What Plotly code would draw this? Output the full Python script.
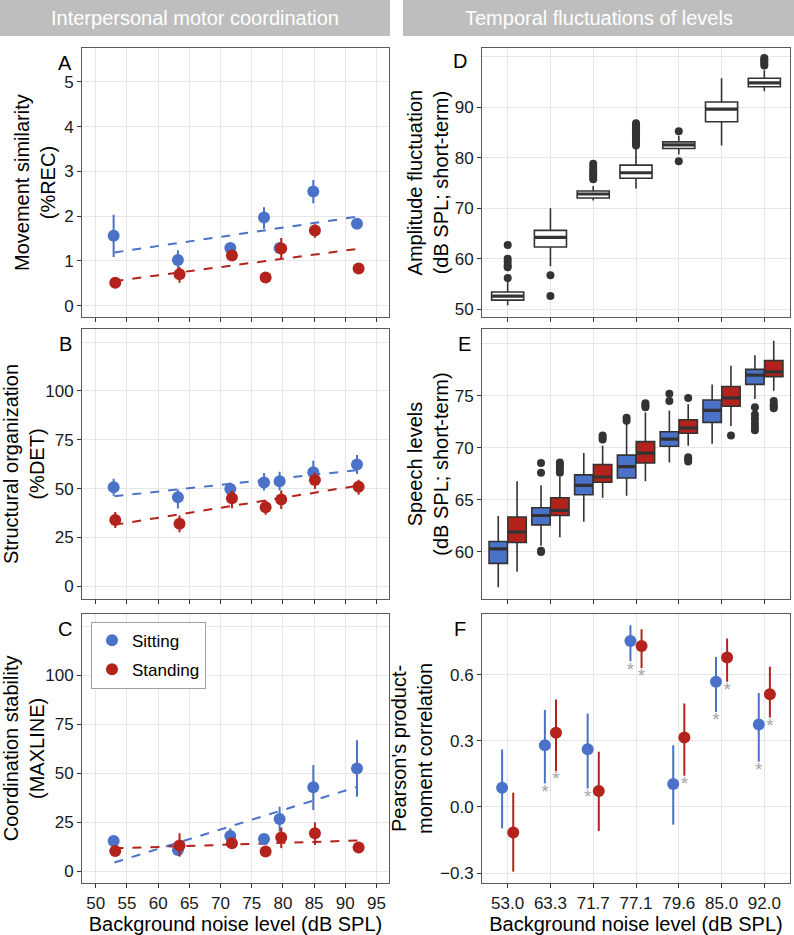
import plotly.graph_objects as go

# noise levels (x) shared by all panels
noise = [53.0, 63.3, 71.7, 77.1, 79.6, 85.0, 92.0]
noise_labels = ["53.0", "63.3", "71.7", "77.1", "79.6", "85.0", "92.0"]
fit_x = [53.0, 92.0]

# A: movement similarity (%REC)
rec_sit = [1.56, 1.02, 1.29, 1.97, 1.29, 2.55, 1.83]
rec_sit_hi = [2.03, 1.24, 1.38, 2.20, 1.38, 2.81, 1.90]
rec_sit_lo = [1.09, 0.82, 1.20, 1.72, 1.20, 2.29, 1.76]
rec_sta = [0.51, 0.70, 1.12, 0.63, 1.28, 1.68, 0.83]
rec_sta_hi = [0.56, 0.87, 1.18, 0.68, 1.51, 1.82, 0.88]
rec_sta_lo = [0.46, 0.51, 1.06, 0.58, 1.05, 1.52, 0.78]
rec_fit_sit = [1.19, 1.99]
rec_fit_sta = [0.55, 1.27]

# B: structural organization (%DET)
det_sit = [50.7, 45.6, 49.8, 53.2, 53.8, 58.4, 62.3]
det_sit_hi = [55.0, 49.5, 53.2, 58.0, 58.7, 64.3, 67.2]
det_sit_lo = [46.4, 39.8, 47.2, 49.0, 49.0, 53.2, 57.5]
det_sta = [34.0, 32.0, 45.1, 40.5, 44.4, 54.4, 51.0]
det_sta_hi = [38.0, 36.2, 49.0, 44.0, 49.0, 58.2, 54.6]
det_sta_lo = [29.9, 27.7, 40.0, 36.6, 39.6, 49.8, 46.9]
det_fit_sit = [46.1, 59.5]
det_fit_sta = [31.5, 51.5]

# C: coordination stability (MAXLINE)
maxl_sit = [15.6, 11.0, 18.1, 16.6, 26.7, 42.9, 52.5]
maxl_sit_hi = [17.0, 13.5, 22.0, 18.0, 33.0, 54.2, 66.9]
maxl_sit_lo = [14.2, 9.0, 15.3, 15.2, 20.3, 31.3, 38.1]
maxl_sta = [10.5, 13.2, 14.4, 10.2, 17.3, 19.5, 12.2]
maxl_sta_hi = [11.8, 19.5, 16.0, 11.5, 22.4, 25.0, 13.5]
maxl_sta_lo = [9.2, 7.6, 12.8, 8.9, 11.9, 13.5, 10.9]
maxl_fit_sit = [4.6, 43.2]
maxl_fit_sta = [11.8, 15.8]

# D: amplitude fluctuation boxplots
amp_lo = [50.8, 58.5, 71.5, 73.9, 80.6, 82.4, 93.1]
amp_q1 = [51.8, 62.3, 72.0, 75.9, 81.8, 87.1, 94.0]
amp_med = [52.6, 64.2, 72.8, 77.0, 82.5, 89.6, 94.8]
amp_q3 = [53.4, 65.6, 73.4, 78.5, 83.1, 91.0, 95.7]
amp_hi = [55.5, 70.0, 74.4, 82.0, 84.3, 95.7, 97.3]
amp_out = [
    [56.2, 58.3, 58.7, 59.4, 60.0, 62.7],
    [56.7, 52.6],
    [75.7, 76.2, 76.6, 77.1, 77.5, 78.2, 78.8],
    [82.4, 82.8, 83.2, 83.6, 84.0, 84.4, 84.8, 85.2, 85.6, 86.0, 86.4, 86.8],
    [85.2, 79.3],
    [],
    [98.2, 98.6, 99.0, 99.4, 99.7],
]

# E: speech levels boxplots
sp_sit_lo = [56.6, 60.6, 62.9, 65.4, 68.6, 70.4, 74.7]
sp_sit_q1 = [58.9, 62.6, 65.5, 67.1, 70.15, 72.45, 76.1]
sp_sit_med = [60.3, 63.5, 66.4, 68.2, 70.85, 73.6, 77.0]
sp_sit_q3 = [61.0, 64.25, 67.4, 69.3, 71.55, 74.6, 77.55]
sp_sit_hi = [63.45, 66.4, 69.5, 72.3, 73.6, 76.1, 78.9]
sp_sit_out = [[], [68.55, 67.6, 60.1, 60.0], [], [72.9, 72.6], [75.2, 74.5], [],
              [73.9, 73.2, 72.8, 72.4, 72.0, 71.7]]
sp_sta_lo = [58.1, 61.4, 65.2, 66.8, 70.2, 72.1, 75.5]
sp_sta_q1 = [60.9, 63.5, 66.7, 68.55, 71.4, 74.0, 76.85]
sp_sta_med = [61.9, 64.0, 67.2, 69.5, 71.9, 74.8, 77.3]
sp_sta_q3 = [63.35, 65.2, 68.4, 70.6, 72.7, 75.9, 78.4]
sp_sta_hi = [66.8, 67.2, 70.2, 73.4, 74.2, 77.9, 80.3]
sp_sta_out = [[], [68.6, 68.4, 68.2, 67.9, 67.6], [71.2, 71.0, 70.8], [74.3, 74.1, 73.9],
              [74.8, 69.1, 68.9, 68.7], [71.2], [74.5, 74.2, 74.0, 73.8]]

# F: Pearson correlations with CI and significance
cor_sit = [0.087, 0.28, 0.262, 0.752, 0.104, 0.567, 0.374]
cor_sit_hi = [0.26, 0.44, 0.424, 0.823, 0.28, 0.68, 0.517]
cor_sit_lo = [-0.097, 0.107, 0.084, 0.66, -0.08, 0.43, 0.205]
cor_sit_sig = [False, True, True, True, False, True, True]
cor_sta = [-0.116, 0.336, 0.072, 0.73, 0.315, 0.677, 0.511]
cor_sta_hi = [0.065, 0.487, 0.25, 0.805, 0.469, 0.763, 0.635]
cor_sta_lo = [-0.293, 0.162, -0.109, 0.63, 0.142, 0.567, 0.405]
cor_sta_sig = [False, True, False, True, True, True, True]

BLUE = "#4A72C8"
RED = "#B3231C"
DARK = "#333333"
FONT = "Liberation Sans, Arial, sans-serif"
W, H = 794, 935

fig = go.Figure()


def px_x(p):
    return p / W


def px_y(p):
    return 1 - p / H


def point_series(xs, ys, hi, lo, color, ax, name, legend=False, shift=0.0):
    fig.add_trace(go.Scatter(
        x=[v + shift for v in xs], y=ys, mode="markers", name=name, legendgroup=name,
        marker=dict(color=color, size=12),
        error_y=dict(type="data", symmetric=False,
                     array=[h - v for h, v in zip(hi, ys)],
                     arrayminus=[v - l for v, l in zip(ys, lo)],
                     color=color, thickness=2, width=0),
        xaxis="x" + ax, yaxis="y" + ax, showlegend=legend))


def fit_line(ys, color, ax):
    fig.add_trace(go.Scatter(
        x=fit_x, y=ys, mode="lines", line=dict(color=color, width=2, dash="dash"),
        xaxis="x" + ax, yaxis="y" + ax, showlegend=False))


# left column: A (1), B (2), C (3)
for ax, (s, sh, sl, t, th, tl, fs, ft) in zip(["1", "2", "3"], [
        (rec_sit, rec_sit_hi, rec_sit_lo, rec_sta, rec_sta_hi, rec_sta_lo, rec_fit_sit, rec_fit_sta),
        (det_sit, det_sit_hi, det_sit_lo, det_sta, det_sta_hi, det_sta_lo, det_fit_sit, det_fit_sta),
        (maxl_sit, maxl_sit_hi, maxl_sit_lo, maxl_sta, maxl_sta_hi, maxl_sta_lo, maxl_fit_sit, maxl_fit_sta)]):
    fit_line(fs, BLUE, ax)
    fit_line(ft, RED, ax)
    point_series(noise, s, sh, sl, BLUE, ax, "Sitting", legend=(ax == "3"), shift=-0.13)
    point_series(noise, t, th, tl, RED, ax, "Standing", legend=(ax == "3"), shift=0.13)

pos = list(range(len(noise)))


def boxes(posx, lo, q1, med, q3, hi, out, fill, ax, width):
    fig.add_trace(go.Box(
        x=posx, lowerfence=lo, q1=q1, median=med, q3=q3, upperfence=hi,
        width=width, whiskerwidth=0, fillcolor=fill, boxpoints=False,
        line=dict(color=DARK, width=1.6), xaxis="x" + ax, yaxis="y" + ax,
        showlegend=False))
    mx, my = [], []
    for p, m in zip(posx, med):
        mx += [p - width / 2, p + width / 2, None]
        my += [m, m, None]
    fig.add_trace(go.Scatter(x=mx, y=my, mode="lines", line=dict(color=DARK, width=3.2),
                             xaxis="x" + ax, yaxis="y" + ax, showlegend=False))
    ox, oy = [], []
    for p, vals in zip(posx, out):
        ox += [p] * len(vals)
        oy += vals
    fig.add_trace(go.Scatter(x=ox, y=oy, mode="markers", marker=dict(color=DARK, size=8),
                             xaxis="x" + ax, yaxis="y" + ax, showlegend=False))


# D (4)
boxes(pos, amp_lo, amp_q1, amp_med, amp_q3, amp_hi, amp_out, "white", "4", 0.75)
# E (5)
boxes([p - 0.22 for p in pos], sp_sit_lo, sp_sit_q1, sp_sit_med, sp_sit_q3, sp_sit_hi,
      sp_sit_out, BLUE, "5", 0.43)
boxes([p + 0.22 for p in pos], sp_sta_lo, sp_sta_q1, sp_sta_med, sp_sta_q3, sp_sta_hi,
      sp_sta_out, RED, "5", 0.43)

# F (6)
for vals, hi, lo, sig, color, shift in [
        (cor_sit, cor_sit_hi, cor_sit_lo, cor_sit_sig, BLUE, -0.13),
        (cor_sta, cor_sta_hi, cor_sta_lo, cor_sta_sig, RED, 0.13)]:
    point_series(pos, vals, hi, lo, color, "6", "", shift=shift)
    fig.add_trace(go.Scatter(
        x=[p + shift for p, s in zip(pos, sig) if s],
        y=[l for l, s in zip(lo, sig) if s],
        mode="text", text="*", textposition="bottom center",
        textfont=dict(color="#A6A6A6", size=19, family=FONT),
        xaxis="x6", yaxis="y6", showlegend=False))

# axis layout
left_dom = [px_x(82), px_x(389)]
right_dom = [px_x(482), px_x(790)]
rows = [[px_y(318), px_y(48)], [px_y(600), px_y(330)], [px_y(885), px_y(615)]]

grid = "#E6E6E6"
tickfont = dict(family=FONT, size=17, color="#1A1A1A")
titlefont = dict(family=FONT, size=20, color="black")


def xstyle(dom, anchor, **kw):
    d = dict(domain=dom, anchor=anchor, showline=True, mirror=True, linecolor="#5A5A5A",
             linewidth=1, ticks="outside", ticklen=4, tickcolor=DARK, gridcolor=grid,
             gridwidth=1.3, zeroline=False, tickfont=tickfont)
    d.update(kw)
    return d


def ystyle(dom, anchor, title, rng, tickvals, extra=None, standoff=3):
    d = dict(domain=dom, anchor=anchor, showline=True, mirror=True, linecolor="#5A5A5A",
             linewidth=1, ticks="outside", ticklen=4, tickcolor=DARK, gridcolor=grid,
             gridwidth=1.3, zeroline=False, tickfont=tickfont, range=rng,
             tickvals=tickvals, title=dict(text=title, font=titlefont, standoff=standoff))
    if extra is not None:
        d["minor"] = dict(tickvals=extra, showgrid=True, gridcolor=grid, gridwidth=1.3,
                          ticks="")
    return d


lin_ticks = [50, 55, 60, 65, 70, 75, 80, 85, 90, 95]
xr = [47.8, 97.0]
cat_r = [-0.6, 6.6]
xtitle = "Background noise level (dB SPL)"

fig.update_layout(
    xaxis=xstyle(left_dom, "y", range=xr, tickvals=lin_ticks, showticklabels=False),
    xaxis2=xstyle(left_dom, "y2", range=xr, tickvals=lin_ticks, showticklabels=False),
    xaxis3=xstyle(left_dom, "y3", range=xr, tickvals=lin_ticks,
                  title=dict(text=xtitle, font=titlefont, standoff=2)),
    xaxis4=xstyle(right_dom, "y4", range=cat_r, tickvals=pos, showticklabels=False),
    xaxis5=xstyle(right_dom, "y5", range=cat_r, tickvals=pos, showticklabels=False),
    xaxis6=xstyle(right_dom, "y6", range=cat_r, tickvals=pos, ticktext=noise_labels,
                  title=dict(text=xtitle, font=titlefont, standoff=2)),
    yaxis=ystyle(rows[0], "x", "Movement similarity<br>(%REC)", [-0.26, 5.76], [0, 1, 2, 3, 4, 5]),
    yaxis2=ystyle(rows[1], "x2", "Structural organization<br>(%DET)", [-6.3, 131.5],
                  [0, 25, 50, 75, 100], [125]),
    yaxis3=ystyle(rows[2], "x3", "Coordination stability<br>(MAXLINE)", [-5.9, 131.3],
                  [0, 25, 50, 75, 100], [125]),
    yaxis4=ystyle(rows[0], "x4", "Amplitude fluctuation<br>(dB SPL; short-term)", [48.4, 101.7],
                  [50, 60, 70, 80, 90], [100], standoff=0),
    yaxis5=ystyle(rows[1], "x5", "Speech levels<br>(dB SPL; short-term)", [55.5, 81.4],
                  [60, 65, 70, 75], [80], standoff=0),
    yaxis6=ystyle(rows[2], "x6", "Pearson's product-<br>moment correlation", [-0.345, 0.876],
                  [-0.3, 0.0, 0.3, 0.6], standoff=2),
)
fig.update_layout(yaxis6_tickformat=".1f")

# header strips
for x0, x1, label in [(0, 390, "Interpersonal motor coordination"),
                      (403, 794, "Temporal fluctuations of levels")]:
    fig.add_shape(type="rect", xref="paper", yref="paper", x0=px_x(x0), x1=px_x(x1),
                  y0=px_y(36), y1=px_y(0), fillcolor="#BEBEBE", line=dict(width=0),
                  layer="below")
    fig.add_annotation(text=label, xref="paper", yref="paper", x=px_x((x0 + x1) / 2),
                       y=px_y(18), xanchor="center", yanchor="middle", showarrow=False,
                       font=dict(family=FONT, size=20, color="white"))

# panel letters
for letter, lx, ly in [("A", 65, 63), ("B", 65, 345), ("C", 65, 630),
                       ("D", 460, 61), ("E", 464, 345), ("F", 460, 630)]:
    fig.add_annotation(text=letter, xref="paper", yref="paper", x=px_x(lx), y=px_y(ly),
                       xanchor="center", yanchor="middle", showarrow=False,
                       font=dict(family=FONT, size=20, color="black"))

fig.update_layout(
    width=W, height=H, margin=dict(l=0, r=0, t=0, b=0),
    plot_bgcolor="white", paper_bgcolor="white", boxmode="overlay",
    font=dict(family=FONT, color="black"),
    legend=dict(x=px_x(91), y=px_y(623), xanchor="left", yanchor="top",
                bgcolor="white", bordercolor="#A0A0A0", borderwidth=1,
                font=dict(family=FONT, size=17), itemsizing="constant",
                tracegroupgap=4),
)

fig.write_html("out.html", config={"displayModeBar": False},
               post_script="document.body.style.margin='0';")
